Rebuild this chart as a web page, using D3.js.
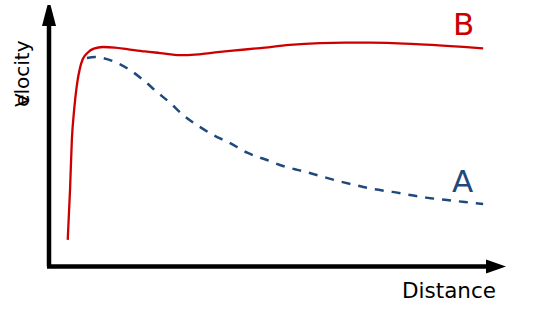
<!DOCTYPE html>
<html>
<head>
<meta charset="utf-8">
<script src="https://cdn.jsdelivr.net/npm/d3@7"></script>
<style>
  body { margin: 0; background: #fff; }
  text { font-family: "DejaVu Sans", sans-serif; }
</style>
</head>
<body>
<svg width="554" height="336"></svg>
<script>
// distance / velocity readings, arbitrary units 0-100
var distB = [4.1, 4.6, 5.0, 5.5, 6.1, 6.8, 7.4, 8.5, 9.8, 11.8, 14.4, 17.1, 21.0, 24.3, 28.7, 31.9, 35.2, 39.6, 46.2, 52.7, 59.3, 64.8, 70.2, 81.2, 95.0];
var velB  = [10.0, 29.1, 48.3, 59.8, 69.3, 76.0, 79.3, 81.8, 83.3, 83.9, 83.7, 83.1, 82.2, 81.6, 80.8, 81.0, 81.6, 82.4, 83.5, 84.7, 85.4, 85.6, 85.6, 84.9, 83.4];

var distA = [8.3, 10.1, 11.8, 14.4, 17.7, 20.6, 23.6, 26.5, 29.3, 33.0, 36.8, 39.2, 43.5, 47.7, 51.2, 55.4, 59.3, 63.2, 67.0, 70.9, 75.1, 79.0, 82.9, 87.1, 91.0, 95.0];
var velA  = [79.7, 80.1, 79.7, 78.2, 75.1, 71.3, 66.7, 62.5, 57.9, 53.3, 49.4, 47.5, 43.3, 40.6, 38.3, 36.4, 34.5, 32.6, 31.0, 29.5, 28.4, 27.2, 26.1, 25.3, 24.5, 23.8];

var seriesNames = ["A", "B"];
var xLabel = "Distance",
    yLabel = "Velocity";

var svg = d3.select("svg"),
    margin = {top: 5, right: 48, bottom: 70, left: 49},
    width = +svg.attr("width") - margin.left - margin.right,
    height = +svg.attr("height") - margin.top - margin.bottom;

var x = d3.scaleLinear().domain([0, 100]).range([margin.left, margin.left + width]),
    y = d3.scaleLinear().domain([0, 100]).range([margin.top + height, margin.top]);

var colorA = "#1f497d",
    colorB = "#cc0000";

var line = d3.line()
    .x(function(d) { return x(d[0]); })
    .y(function(d) { return y(d[1]); })
    .curve(d3.curveMonotoneX);

var dataA = d3.zip(distA, velA),
    dataB = d3.zip(distB, velB);

// axes with arrow heads
var x0 = x(0), y0 = y(0);
svg.append("path")
    .attr("d", "M" + x0 + "," + (y0 + 0.5) + "V" + (y(100) + 20))
    .style("stroke", "#000").style("stroke-width", "4.5px").style("fill", "none");
svg.append("path")
    .attr("d", "M" + (x0 - 2) + "," + (y0 + 0.5) + "H" + (x(100) - 19))
    .style("stroke", "#000").style("stroke-width", "4.5px").style("fill", "none");
svg.append("path")
    .attr("d", "M" + (x0 - 1.5) + "," + y(100) + "L" + (x0 + 1.5) + "," + y(100) +
               "L" + (x0 + 7) + "," + (y(100) + 21) + "L" + (x0 - 7) + "," + (y(100) + 21) + "Z")
    .style("fill", "#000");
svg.append("path")
    .attr("d", "M" + x(100) + "," + (y0 + 0.5) + "L" + (x(100) - 20) + "," + (y0 - 6.5) +
               "L" + (x(100) - 20) + "," + (y0 + 7.5) + "Z")
    .style("fill", "#000");

// series
svg.append("path")
    .datum(dataA)
    .attr("d", line)
    .style("fill", "none")
    .style("stroke", colorA)
    .style("stroke-width", "2.5px")
    .style("stroke-dasharray", "9,8");

svg.append("path")
    .datum(dataB)
    .attr("d", line)
    .style("fill", "none")
    .style("stroke", colorB)
    .style("stroke-width", "2.3px");

// series labels
svg.append("text")
    .attr("x", x(88.4)).attr("y", y(88.5))
    .style("font-size", "31px").style("fill", colorB)
    .text(seriesNames[1]);
svg.append("text")
    .attr("x", x(88.2)).attr("y", y(28.5))
    .style("font-size", "31px").style("fill", colorA)
    .text(seriesNames[0]);

// axis titles
svg.append("text")
    .attr("x", 402).attr("y", 298)
    .style("font-size", "21.5px").style("fill", "#000")
    .text(xLabel);

var yl = svg.append("text")
    .attr("transform", "translate(29,107) rotate(-90)")
    .style("font-size", "20px").style("fill", "#000");
yl.append("tspan").text(yLabel.slice(0, 1));
yl.append("tspan").attr("dx", -12).text(yLabel.slice(1));
</script>
</body>
</html>
